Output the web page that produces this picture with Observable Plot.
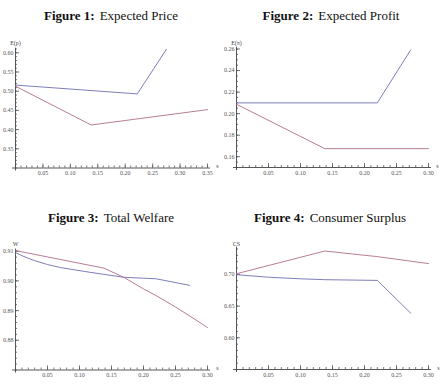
<!DOCTYPE html>
<html><head><meta charset="utf-8">
<script src="https://cdn.jsdelivr.net/npm/d3@7"></script>
<script src="https://cdn.jsdelivr.net/npm/@observablehq/plot@0.6"></script>
<style>
body{margin:0;background:#fff;}
#root{position:relative;width:442px;height:389px;overflow:hidden;background:#fff;}
.title{position:absolute;font-family:"Liberation Serif",serif;font-size:13px;color:#111;white-space:nowrap;transform:translate(-50%,-50%);}
.title b{font-weight:bold;margin-right:5px;}
.panel{position:absolute;}
</style></head><body><div id="root"></div>
<script>
// Titles and labels
const figNums = ["Figure 1:", "Figure 2:", "Figure 3:", "Figure 4:"];
const titles = ["Expected Price", "Expected Profit", "Total Welfare", "Consumer Surplus"];
const yLabels = ["E(p)", "E(\u03c0)", "W", "CS"];
const xLabel = "s";

// Figure 1: Expected Price
const s1Blue = [0, 0.222, 0.275];
const price1Blue = [0.516, 0.493, 0.609];
const s1Red = [0, 0.138, 0.35];
const price1Red = [0.513, 0.412, 0.452];
const xTicks1 = [0.05, 0.10, 0.15, 0.20, 0.25, 0.30, 0.35];
const yTicks1 = [0.35, 0.40, 0.45, 0.50, 0.55, 0.60];

// Figure 2: Expected Profit
const s2Blue = [0, 0.22, 0.272];
const profit2Blue = [0.21, 0.21, 0.259];
const s2Red = [0, 0.138, 0.30];
const profit2Red = [0.2087, 0.1675, 0.1675];
const xTicks2 = [0.05, 0.10, 0.15, 0.20, 0.25, 0.30];
const yTicks2 = [0.16, 0.18, 0.20, 0.22, 0.24, 0.26];

// Figure 3: Total Welfare
const s3Blue = [0, 0.01, 0.02, 0.03, 0.05, 0.07, 0.09, 0.11, 0.138, 0.17, 0.20, 0.22, 0.272];
const w3Blue = [0.9095, 0.9085, 0.9076, 0.9068, 0.9055, 0.9045, 0.9038, 0.9031, 0.9022, 0.9012, 0.9009, 0.9007, 0.8985];
const s3Red = [0, 0.138, 0.17, 0.20, 0.22, 0.25, 0.27, 0.30];
const w3Red = [0.9102, 0.9043, 0.9011, 0.8973, 0.8950, 0.8912, 0.8885, 0.8843];
const xTicks3 = [0.05, 0.10, 0.15, 0.20, 0.25, 0.30];
const yTicks3 = [0.88, 0.89, 0.90, 0.91];

// Figure 4: Consumer Surplus
const s4Blue = [0, 0.05, 0.10, 0.138, 0.22, 0.272];
const cs4Blue = [0.6995, 0.6955, 0.693, 0.6916, 0.6905, 0.639];
const s4Red = [0, 0.138, 0.22, 0.30];
const cs4Red = [0.701, 0.7368, 0.728, 0.717];
const xTicks4 = [0.05, 0.10, 0.15, 0.20, 0.25, 0.30];
const yTicks4 = [0.60, 0.65, 0.70];

const blue = "#6e6eb2";
const red = "#b06e8a";
const rows = (s, v) => s.map((d, i) => ({s: d, v: v[i]}));

const panels = [
  {left: 0, top: 30, xDomain: [0, 0.35], yDomain: [0.30, 0.612], topPx: 47.7, bottomPx: 167.5,
   xTicks: xTicks1, xMinor: 0.01, yTicks: yTicks1, yMinor: 0.01,
   series: [[s1Blue, price1Blue, blue], [s1Red, price1Red, red]], labelDy: -7, sDx: 10},
  {left: 221, top: 30, xDomain: [0, 0.30], yDomain: [0.15, 0.2615], topPx: 46.9, bottomPx: 167,
   xTicks: xTicks2, xMinor: 0.01, yTicks: yTicks2, yMinor: 0.005,
   series: [[s2Blue, profit2Blue, blue], [s2Red, profit2Red, red]], labelDy: -7, sDx: 9},
  {left: 0, top: 225, xDomain: [0, 0.30], yDomain: [0.87, 0.9107], topPx: 248.6, bottomPx: 369.5,
   xTicks: xTicks3, xMinor: 0.01, yTicks: yTicks3, yMinor: 0.002,
   series: [[s3Blue, w3Blue, blue], [s3Red, w3Red, red]], labelDy: -7.5, sDx: 10},
  {left: 221, top: 225, xDomain: [0, 0.30], yDomain: [0.55, 0.743], topPx: 246.6, bottomPx: 369,
   xTicks: xTicks4, xMinor: 0.01, yTicks: yTicks4, yMinor: 0.01,
   series: [[s4Blue, cs4Blue, blue], [s4Red, cs4Red, red]], labelDy: -5, sDx: 10}
];
const titleCenters = [[111, 16], [331, 16], [111, 217.5], [330, 218]];

const root = document.getElementById("root");
const fmt = d3.format(".2f");

panels.forEach((p, k) => {
  const t = document.createElement("div");
  t.className = "title";
  t.style.left = titleCenters[k][0] + "px";
  t.style.top = titleCenters[k][1] + "px";
  t.innerHTML = `<b>${figNums[k]}</b><span>${titles[k]}</span>`;
  root.appendChild(t);

  const marginBottom = 22;
  const marginTop = p.topPx - p.top;
  const height = (p.bottomPx - p.top) + marginBottom;
  const xMinor = d3.range(p.xDomain[0], p.xDomain[1] + 1e-9, p.xMinor).map(d => +d.toFixed(4));
  const yMinor = d3.range(Math.ceil(p.yDomain[0] / p.yMinor) * p.yMinor, p.yDomain[1] + 1e-9, p.yMinor).map(d => +d.toFixed(4));
  const yMin = p.yDomain[0];

  const chart = Plot.plot({
    width: 221,
    height,
    marginLeft: 15,
    marginRight: 14,
    marginTop,
    marginBottom,
    x: {domain: p.xDomain, label: null},
    y: {domain: p.yDomain, label: null},
    style: {fontFamily: "Liberation Serif, serif", fontSize: "6px", color: "#444", background: "transparent", overflow: "visible"},
    marks: [
      Plot.axisX({ticks: xMinor, tickSize: -2, tickFormat: () => "", stroke: "#555", strokeWidth: 0.8}),
      Plot.axisX({ticks: p.xTicks, tickSize: -4, tickFormat: () => "", stroke: "#555", strokeWidth: 0.8}),
      Plot.axisX({ticks: p.xTicks, tickSize: 0, tickPadding: 3, tickFormat: fmt, fill: "#555"}),
      Plot.axisY({ticks: yMinor, tickSize: -2, tickFormat: () => "", stroke: "#555", strokeWidth: 0.8}),
      Plot.axisY({ticks: p.yTicks, tickSize: -4, tickFormat: () => "", stroke: "#555", strokeWidth: 0.8}),
      Plot.axisY({ticks: p.yTicks, tickSize: 0, tickPadding: 2, tickFormat: fmt, fill: "#555"}),
      Plot.ruleY([yMin], {stroke: "#444", strokeWidth: 0.9, insetLeft: -3, insetRight: -3}),
      Plot.ruleX([p.xDomain[0]], {stroke: "#444", strokeWidth: 0.9, insetBottom: -3}),
      ...p.series.map(([s, v, c]) => Plot.line(rows(s, v), {x: "s", y: "v", stroke: c, strokeWidth: 0.9})),
      Plot.text([yLabels[k]], {frameAnchor: "top-left", dy: p.labelDy, textAnchor: "middle", fill: "#444"}),
      Plot.text([xLabel], {frameAnchor: "bottom-right", dx: p.sDx, textAnchor: "middle", fill: "#444"})
    ]
  });
  chart.classList.add("panel");
  chart.style.left = p.left + "px";
  chart.style.top = p.top + "px";
  chart.style.position = "absolute";
  root.appendChild(chart);
});
</script>
</body></html>
